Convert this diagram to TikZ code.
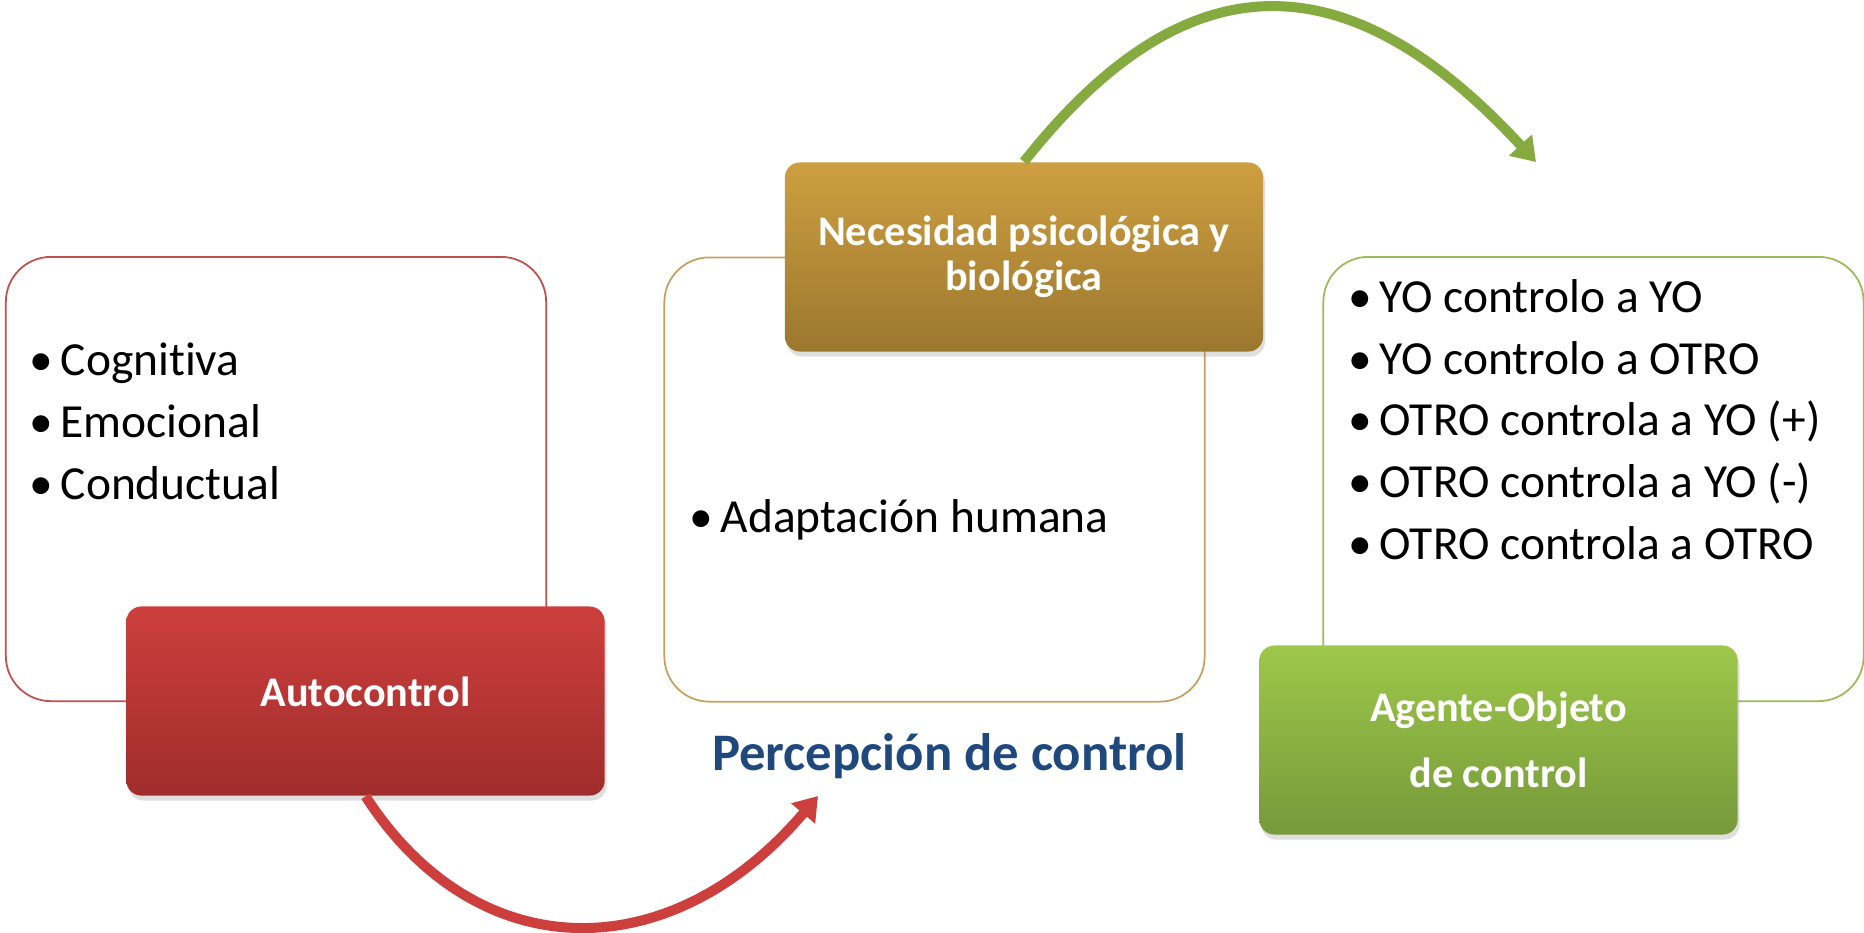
\documentclass[tikz,border=0pt]{standalone}
\usepackage{fontspec}
\setmainfont{Carlito}[Ligatures=CommonOff]
\usetikzlibrary{arrows.meta,shadows}
\definecolor{rojo}{HTML}{C0504D}
\definecolor{oro}{HTML}{C6A05F}
\definecolor{verde}{HTML}{9BBB59}
\definecolor{azul}{HTML}{1F497D}
\definecolor{rojoA}{HTML}{CD3F3D}
\definecolor{rojoB}{HTML}{9F2D2B}
\definecolor{oroA}{HTML}{CE9F41}
\definecolor{oroB}{HTML}{9B772E}
\definecolor{verdeA}{HTML}{9DC84A}
\definecolor{verdeB}{HTML}{76993A}
\newcommand\punto{\makebox[0.36cm][l]{\hspace{0.05cm}•}}

\begin{document}
\begin{tikzpicture}[x=0.01cm,y=-0.01cm,
  marco/.style={draw,line width=0.5pt,rounded corners=0.45cm,minimum width=5.4cm,minimum height=4.44cm},
  caja/.style={rounded corners=0.15cm,minimum width=4.78cm,minimum height=1.89cm,text=white,align=center,
    font=\fontsize{12}{12.8}\selectfont\bfseries,
    drop shadow={opacity=0.25,shadow xshift=0.02cm,shadow yshift=-0.05cm}},
  lista/.style={anchor=base west,inner sep=0pt,align=left,font=\fontsize{13.5}{17.5}\selectfont},
  flecha/.style={line width=0.1cm,-{Triangle[length=0.23cm,width=0.3cm]}}]
\useasboundingbox (0,0) rectangle (1864,932);

% contornos
\node[marco,draw=rojo] (mauto) at (276,479) {};
\node[marco,draw=oro] (mneces) at (934.5,479.5) {};
\node[marco,draw=verde] (magente) at (1593.5,479) {};

% listas (base = ultima linea)
\node[lista] (lauto) at (24,499) {\punto Cognitiva\\ \punto Emocional\\ \punto Conductual};
\node[lista] (lneces) at (684,532) {\punto Adaptación humana};
\node[lista] (lagente) at (1343,559) {\punto YO controlo a YO\\ \punto YO controlo a OTRO\\
  \punto OTRO controla a YO (+)\\ \punto OTRO controla a YO (-)\\ \punto OTRO controla a OTRO};

% cajas de color
\node[caja,top color=rojoA,bottom color=rojoB,text depth=0.18cm] (auto) at (365.5,701) {Autocontrol};
\node[caja,top color=oroA,bottom color=oroB] (neces) at (1024,257)
  {Necesidad psicológica y\\ biológica};
\node[caja,top color=verdeA,bottom color=verdeB,
  font=\fontsize{12}{18.8}\selectfont\bfseries] (agente) at (1498.5,740) {Agente-Objeto\\ de control};

\node[text=azul,font=\fontsize{15}{18}\selectfont\bfseries,anchor=base,inner sep=0pt] (titulo) at (949.5,770)
  {Percepción de control};

% flechas
\coordinate (projo) at (818,796);
\coordinate (pverde) at (1536,162);
\draw[flecha,color=rojoA] (auto.south) .. controls +(111,172) and +(-148,174) .. (projo);
\draw[flecha,color=verdeA!85!black] (neces.north) .. controls +(161,-204) and +(-190,-206) .. (pverde);

\end{tikzpicture}
\end{document}
